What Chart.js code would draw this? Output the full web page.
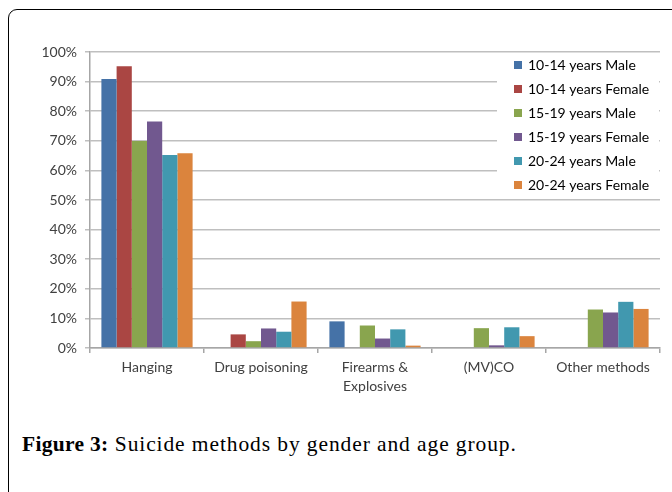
<!DOCTYPE html>
<html lang="en">
<head>
  <meta charset="UTF-8">
  <title>Suicide methods</title>
  <script src="https://cdn.jsdelivr.net/npm/chart.js"></script>
  <style>
    body { margin: 0; background: #fff; width: 672px; height: 492px; overflow: hidden; position: relative; }
    .frame { position: absolute; left: 8px; top: 9px; width: 720px; height: 560px; border: 1.5px solid #000; border-radius: 9px; box-sizing: border-box; }
    #wrap { position: absolute; left: 0; top: 0; width: 672px; height: 420px; }
    .caption { position: absolute; left: 22px; top: 432px; font-family: "Liberation Serif", serif; font-size: 21.5px; letter-spacing: 0.9px; color: #000; white-space: nowrap; }
    .caption b { font-weight: bold; letter-spacing: 0.3px; }
  </style>
</head>
<body>
  <div class="frame"></div>
  <div id="wrap"><canvas id="chart" width="672" height="420"></canvas></div>
  <div class="caption"><b>Figure 3:</b> Suicide methods by gender and age group.</div>

  <script>
    const categories = ['Hanging', 'Drug poisoning', ['Firearms &', 'Explosives'], '(MV)CO', 'Other methods'];
    const seriesNames = ['10-14 years Male', '10-14 years Female', '15-19 years Male', '15-19 years Female', '20-24 years Male', '20-24 years Female'];
    const colors = ['#4572A7', '#AA4643', '#89A54E', '#71588F', '#4198AF', '#DB843D'];
    const male1014 = [90.9, 0, 9.0, 0, 0];
    const female1014 = [95.2, 4.6, 0, 0, 0];
    const male1519 = [69.9, 2.3, 7.6, 6.7, 13.0];
    const female1519 = [76.5, 6.6, 3.2, 0.9, 12.0];
    const male2024 = [65.2, 5.5, 6.3, 7.0, 15.6];
    const female2024 = [65.8, 15.7, 0.8, 4.0, 13.2];
    const yTicks = [0, 10, 20, 30, 40, 50, 60, 70, 80, 90, 100];

    const values = [male1014, female1014, male1519, female1519, male2024, female2024];

    // legend drawn on a white box over the grid, like the original
    const boxLegend = {
      id: 'boxLegend',
      afterDraw(chart) {
        const ctx = chart.ctx;
        ctx.save();
        ctx.fillStyle = '#fff';
        ctx.fillRect(497, 54, 162, 141);
        ctx.font = '14px Lato, sans-serif';
        ctx.textBaseline = 'middle';
        chart.data.datasets.forEach((ds, i) => {
          const y = 65 + i * 24;
          ctx.fillStyle = ds.backgroundColor;
          ctx.fillRect(514, y - 4, 8, 8);
          ctx.fillStyle = '#000';
          ctx.fillText(ds.label, 528, y);
        });
        ctx.restore();
      }
    };

    new Chart(document.getElementById('chart').getContext('2d'), {
      type: 'bar',
      data: {
        labels: categories,
        datasets: seriesNames.map((name, i) => ({
          label: name,
          data: values[i],
          backgroundColor: colors[i],
          borderWidth: 0,
          categoryPercentage: 0.8,
          barPercentage: 1.0
        }))
      },
      options: {
        responsive: false,
        animation: false,
        layout: { padding: { top: 52, right: 12, left: 0, bottom: 0 } },
        plugins: { legend: { display: false }, tooltip: { enabled: false } },
        scales: {
          x: {
            grid: { offset: true, drawOnChartArea: false, color: '#a6a6a6', tickLength: 5, lineWidth: 1.5 },
            border: { color: '#a6a6a6', width: 1.5 },
            ticks: { color: '#404040', font: { family: 'Lato', size: 14, lineHeight: 1.35 }, padding: 5, maxRotation: 0, autoSkip: false },
            afterFit(s) { s.height = 72; }
          },
          y: {
            min: 0, max: 100,
            afterBuildTicks(s) { s.ticks = yTicks.map(v => ({ value: v })); },
            grid: { color: '#bfbfbf', lineWidth: 1.5, tickLength: 5 },
            border: { color: '#a6a6a6', width: 1.5 },
            ticks: { color: '#404040', font: { family: 'Lato', size: 14 }, padding: 8, callback: v => v + '%' },
            afterFit(s) { s.width = 90; }
          }
        }
      },
      plugins: [boxLegend]
    });
  </script>
</body>
</html>
